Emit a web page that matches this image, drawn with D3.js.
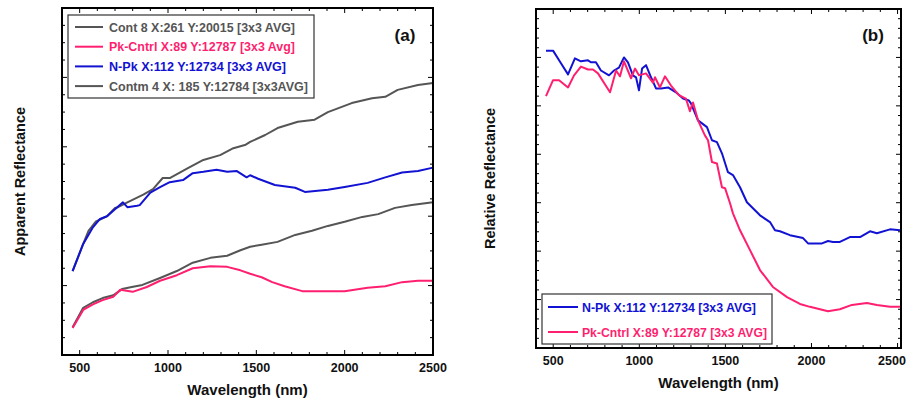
<!DOCTYPE html>
<html><head><meta charset="utf-8">
<script src="https://cdn.jsdelivr.net/npm/d3@7"></script>
<style>body{margin:0;background:#fff}svg{display:block}text{font-family:"Liberation Sans",Arial,sans-serif;font-weight:bold}</style>
</head><body><svg id="c" width="909" height="400"></svg>
<script>
// ---------- Data: panel (a) Apparent Reflectance ----------
const cont8Wl = [460,520,550,590,655,700,717,770,860,915,970,1010,1110,1200,1295,1370,1440,1465,1550,1620,1735,1830,1905,2040,2155,2230,2300,2415,2500];
const cont8Val = [1.21,1.60,1.79,1.92,2.00,2.12,2.13,2.20,2.31,2.39,2.55,2.55,2.69,2.81,2.88,2.98,3.03,3.07,3.17,3.27,3.36,3.39,3.50,3.63,3.70,3.72,3.82,3.89,3.92];

const npkAWl = [460,520,575,615,655,745,770,825,840,900,955,1010,1085,1140,1200,1275,1335,1390,1445,1465,1510,1605,1720,1775,1905,2000,2130,2230,2325,2415,2500];
const npkAVal = [1.21,1.60,1.84,1.96,2.00,2.20,2.13,2.15,2.16,2.34,2.42,2.49,2.52,2.62,2.64,2.67,2.64,2.65,2.56,2.59,2.54,2.45,2.41,2.35,2.38,2.42,2.48,2.56,2.63,2.65,2.70];

const contm4Wl = [460,520,575,630,690,740,795,855,955,1050,1140,1240,1335,1410,1465,1530,1620,1720,1815,1905,2000,2100,2190,2285,2380,2500];
const contm4Val = [0.40,0.68,0.76,0.82,0.86,0.95,0.98,1.01,1.11,1.21,1.33,1.40,1.43,1.51,1.56,1.59,1.63,1.73,1.79,1.86,1.92,1.99,2.03,2.12,2.16,2.20];

const pkAWl = [460,520,575,630,690,730,800,880,955,1050,1140,1240,1335,1410,1465,1530,1590,1660,1760,1905,2000,2130,2230,2325,2415,2500];
const pkAVal = [0.39,0.65,0.73,0.79,0.84,0.94,0.91,0.98,1.07,1.15,1.25,1.28,1.27,1.22,1.17,1.12,1.05,0.99,0.92,0.92,0.92,0.97,0.99,1.05,1.07,1.07];

// ---------- Data: panel (b) Relative Reflectance ----------
const npkBWl = [458,499,545,586,626,661,702,719,748,777,824,853,882,911,934,963,981,998,1016,1039,1068,1097,1126,1167,1213,1254,1288,1300,1341,1393,1422,1451,1480,1515,1544,1585,1625,1701,1759,1788,1817,1875,1951,1980,2061,2096,2125,2165,2223,2282,2340,2380,2456,2514];
const npkBVal = [6.14,6.14,5.88,5.65,5.98,5.92,5.94,5.90,5.90,5.73,5.63,5.73,5.79,6.00,5.90,5.63,5.59,5.32,5.77,5.84,5.59,5.36,5.36,5.38,5.28,5.15,5.11,5.05,4.70,4.56,4.29,4.25,4.02,3.63,3.57,3.32,3.01,2.74,2.60,2.43,2.41,2.33,2.27,2.16,2.16,2.21,2.19,2.19,2.29,2.29,2.41,2.37,2.45,2.43];

const pkBWl = [458,499,534,586,621,661,702,731,760,830,865,888,911,952,975,998,1039,1079,1091,1120,1149,1184,1230,1271,1294,1312,1341,1381,1399,1422,1451,1480,1498,1527,1544,1585,1643,1701,1776,1858,1933,1991,2096,2165,2235,2322,2380,2456,2514];
const pkBVal = [5.20,5.53,5.53,5.38,5.63,5.81,5.75,5.75,5.67,5.28,5.73,5.61,5.92,5.57,5.77,5.63,5.67,5.48,5.59,5.38,5.61,5.42,5.22,5.15,4.89,5.07,4.70,4.39,4.29,3.84,3.81,3.32,3.30,2.99,2.78,2.43,2.02,1.61,1.26,1.05,0.91,0.85,0.76,0.80,0.89,0.93,0.89,0.85,0.85];

// ---------- Ticks & labels ----------
const xTickLabels = [500,1000,1500,2000,2500];
const yMajorA = [0,1,2,3,4,5];
const yMajorB = [0,1,2,3,4,5,6,7];
const legendA = ["Cont 8 X:261 Y:20015 [3x3 AVG]","Pk-Cntrl X:89 Y:12787 [3x3 Avg]","N-Pk X:112 Y:12734 [3x3 AVG]"," Contm 4 X: 185 Y:12784 [3x3AVG]"];
const legendB = ["N-Pk X:112 Y:12734 [3x3 AVG]","Pk-Cntrl X:89 Y:12787 [3x3 AVG]"];

const GRAY="#555555", PINK="#ff1f70", BLUE="#1212d2";
const svg = d3.select("#c");
const zip = (a,b)=>a.map((w,i)=>[w,b[i]]);

function panel(cfg){
  const g = svg.append("g");
  const x = d3.scaleLinear().domain(cfg.xd).range([cfg.l,cfg.r]);
  const y = d3.scaleLinear().domain(cfg.yd).range([cfg.b,cfg.t]);
  const xMinor = d3.range(500,2501,100);
  const yMinor = d3.range(cfg.yd[0], cfg.yd[1]+1e-9, cfg.ystep);
  const tk = g.append("g").attr("stroke","#000").attr("stroke-width",1);
  xMinor.forEach(v=>{
    const len = v%500===0?5:3;
    tk.append("line").attr("x1",x(v)).attr("x2",x(v)).attr("y1",cfg.b).attr("y2",cfg.b-len);
    tk.append("line").attr("x1",x(v)).attr("x2",x(v)).attr("y1",cfg.t).attr("y2",cfg.t+len);
  });
  yMinor.forEach(v=>{
    const major = cfg.ymaj.some(m=>Math.abs(m-v)<1e-6);
    const len = major?5:3;
    tk.append("line").attr("x1",cfg.l).attr("x2",cfg.l+len).attr("y1",y(v)).attr("y2",y(v));
    tk.append("line").attr("x1",cfg.r).attr("x2",cfg.r-len).attr("y1",y(v)).attr("y2",y(v));
  });
  g.selectAll(".xl").data(xTickLabels).enter().append("text")
    .attr("x",d=>Math.min(x(d), 908-16)).attr("y",cfg.b+17).attr("text-anchor","middle")
    .attr("font-size",12.5).attr("fill","#111").text(d=>d);
  const line = d3.line().x(d=>x(d[0])).y(d=>y(d[1]));
  cfg.series.forEach(s=>{
    g.append("path").datum(zip(s.wl,s.val)).attr("d",line)
      .attr("fill","none").attr("stroke",s.color).attr("stroke-width",2).attr("stroke-linejoin","round");
  });
  g.append("rect").attr("x",cfg.l).attr("y",cfg.t).attr("width",cfg.r-cfg.l).attr("height",cfg.b-cfg.t)
    .attr("fill","none").attr("stroke","#000").attr("stroke-width",2);
  g.append("text").attr("x",(cfg.l+cfg.r)/2).attr("y",cfg.b+40).attr("text-anchor","middle")
    .attr("font-size",15).attr("fill","#111").text("Wavelength (nm)");
  g.append("text").attr("transform",`translate(${cfg.yl},${(cfg.t+cfg.b)/2}) rotate(-90)`)
    .attr("text-anchor","middle").attr("font-size",14.5).attr("fill","#111").text(cfg.ytitle);
  g.append("text").attr("x",cfg.tagX).attr("y",41).attr("text-anchor","middle")
    .attr("font-size",17).attr("fill","#111").text(cfg.tag);
  const L = cfg.legend;
  g.append("rect").attr("x",L.x).attr("y",L.y).attr("width",L.w).attr("height",L.h)
    .attr("fill","#fff").attr("stroke","#333").attr("stroke-width",1.2);
  L.items.forEach((it,i)=>{
    const yy = L.y0 + i*L.dy;
    g.append("line").attr("x1",L.lx1).attr("x2",L.lx2).attr("y1",yy).attr("y2",yy)
      .attr("stroke",it.color).attr("stroke-width",2);
    g.append("text").attr("x",it.tx).attr("y",yy+4.5).attr("font-size",12.5).attr("fill",it.color)
      .attr("textLength",it.tw).attr("lengthAdjust","spacingAndGlyphs").text(it.label);
  });
}

panel({
  xd:[400,2500], yd:[0,5], l:62, r:433, t:8, b:355, ystep:0.25, ymaj:yMajorA,
  ytitle:"Apparent Reflectance", yl:25, tag:"(a)", tagX:405,
  series:[
    {wl:contm4Wl,val:contm4Val,color:GRAY},
    {wl:pkAWl,val:pkAVal,color:PINK},
    {wl:cont8Wl,val:cont8Val,color:GRAY},
    {wl:npkAWl,val:npkAVal,color:BLUE}
  ],
  legend:{x:68,y:15,w:246,h:83,y0:27,dy:19.7,lx1:75,lx2:103,items:[
    {label:legendA[0],color:GRAY,tx:109,tw:186},
    {label:legendA[1],color:PINK,tx:109,tw:186},
    {label:legendA[2],color:BLUE,tx:109,tw:177},
    {label:legendA[3],color:GRAY,tx:109,tw:199}
  ]}
});

panel({
  xd:[400,2520], yd:[0,7], l:536, r:901, t:9, b:348, ystep:0.2, ymaj:yMajorB,
  ytitle:"Relative Reflectance", yl:495, tag:"(b)", tagX:873,
  series:[
    {wl:npkBWl,val:npkBVal,color:BLUE},
    {wl:pkBWl,val:pkBVal,color:PINK}
  ],
  legend:{x:542,y:294,w:230,h:50,y0:307,dy:25,lx1:548,lx2:578,items:[
    {label:legendB[0],color:BLUE,tx:582,tw:174},
    {label:legendB[1],color:PINK,tx:582,tw:185}
  ]}
});
</script></body></html>
